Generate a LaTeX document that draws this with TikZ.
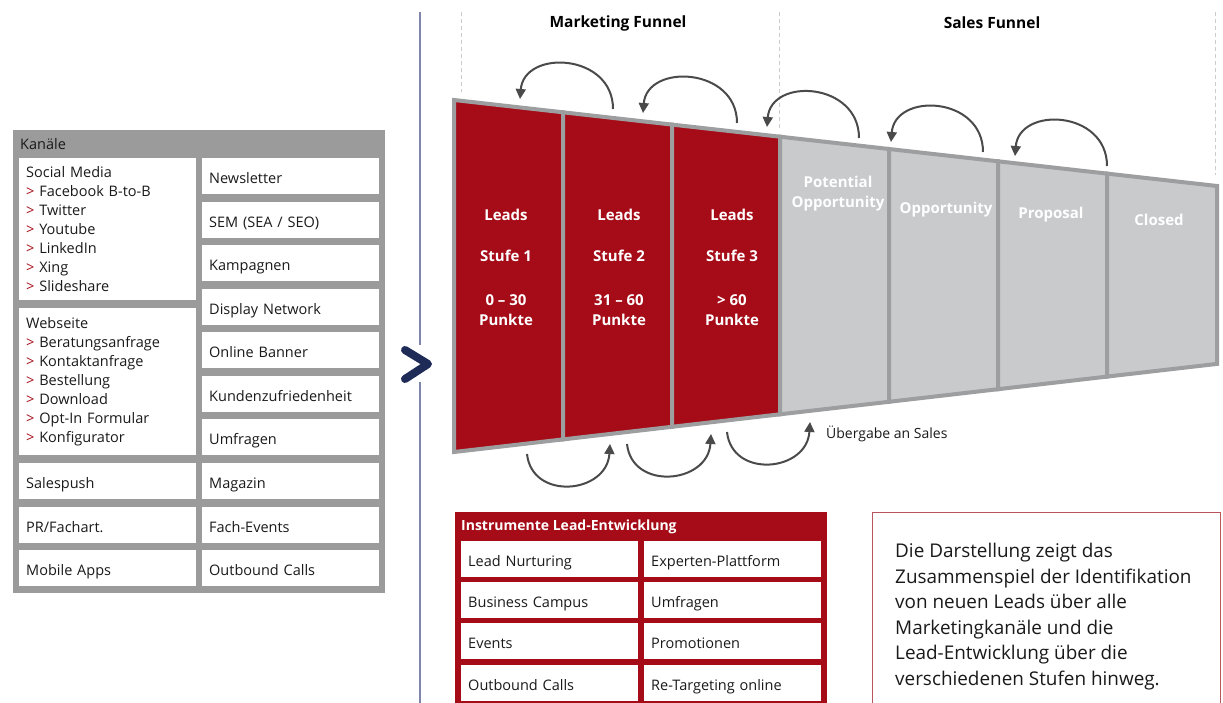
\documentclass[tikz,border=0pt]{standalone}
\usepackage{fontspec}
\setmainfont{Open Sans}
\usetikzlibrary{arrows.meta}
\definecolor{fred}{HTML}{A50C17}
\definecolor{fborder}{HTML}{9D9E9F}
\definecolor{flight}{HTML}{C9CACC}
\definecolor{panelgray}{HTML}{9B9B9B}
\definecolor{arrowgray}{HTML}{4A4A4A}
\definecolor{navy}{HTML}{1E2B57}
\definecolor{vline}{HTML}{7E87AA}
\definecolor{dashgray}{HTML}{CCCCCC}
\definecolor{tboxred}{HTML}{B9555C}
\definecolor{txt}{HTML}{1A1A1A}
\newcommand\boxfont{\fontsize{14.5}{19}\selectfont}
\newcommand\redgt{\textcolor{fred}{>}\ }
\begin{document}
\begin{tikzpicture}[x=1pt,y=-1pt,
  wbox/.style={fill=white, anchor=north west, minimum height=36pt, text width=163pt,
    inner xsep=7pt, inner ysep=0pt, align=left, font=\boxfont, text=txt},
  onebox/.style={wbox, text height=14pt, text depth=0pt},
  cell/.style={draw=fborder, line width=4pt, line join=miter},
  celltext/.style={text=white, font=\fontsize{15}{20}\selectfont\bfseries, align=center, inner sep=0pt},
  carrow/.style={draw=arrowgray, line width=2pt, -{Triangle[length=10pt,width=10pt]}},
  guide/.style={draw=dashgray, line width=0.8pt, dash pattern=on 4pt off 3pt},
  title/.style={font=\fontsize{15.5}{18}\selectfont\bfseries, text=black},
]
\useasboundingbox (0,0) rectangle (1223,703);
\fill[white] (0,0) rectangle (1223,703);

% ---------- left panel: Kanaele ----------
\fill[panelgray] (13,130) rectangle (385,593);
\node[anchor=west, font=\boxfont, text=txt, inner sep=0pt] (kan) at (20,144) {Kanäle};

\node[wbox, minimum height=142pt] (social) at (19,158) {Social Media\\ \redgt Facebook B-to-B\\ \redgt Twitter\\ \redgt Youtube\\ \redgt LinkedIn\\ \redgt Xing\\ \redgt Slideshare};
\node[wbox, minimum height=147pt] (web) at (19,308) {Webseite\\ \redgt Beratungsanfrage\\ \redgt Kontaktanfrage\\ \redgt Bestellung\\ \redgt Download\\ \redgt Opt-In Formular\\ \redgt Konfigurator};
\node[onebox] (sales) at (19,463) {Salespush};
\node[onebox] (pr) at (19,507) {PR/Fachart.};
\node[onebox] (mobile) at (19,550) {Mobile Apps};

\node[onebox] (news) at (202,158) {Newsletter};
\node[onebox] (sem) at (202,202) {SEM (SEA / SEO)};
\node[onebox] (kamp) at (202,245) {Kampagnen};
\node[onebox] (disp) at (202,289) {Display Network};
\node[onebox] (banner) at (202,332) {Online Banner};
\node[onebox] (kunden) at (202,376) {Kundenzufriedenheit};
\node[onebox] (umf) at (202,419) {Umfragen};
\node[onebox] (mag) at (202,463) {Magazin};
\node[onebox] (fach) at (202,507) {Fach-Events};
\node[onebox] (outb) at (202,550) {Outbound Calls};

% ---------- separator line and chevron ----------
\draw[vline, line width=1.5pt] (420,12) -- (420,345);
\draw[vline, line width=1.5pt] (420,382) -- (420,703);
\draw[navy, line width=8pt, line cap=round, line join=round] (405,350) -- (428,364) -- (405,379);

% ---------- guides and titles ----------
\draw[guide] (461,12) -- (461,92);
\draw[guide] (779,12) -- (779,130);
\draw[guide] (1215,12) -- (1215,175);
\node[title] (mf) at (618,23) {Marketing Funnel};
\node[title] (sf) at (992,23) {Sales Funnel};

% ---------- funnel cells ----------
\filldraw[cell, fill=fred] (454,100) -- (563,112.3) -- (563,439.4) -- (454,452) -- cycle;
\filldraw[cell, fill=fred] (563,112.3) -- (672,124.6) -- (672,426.8) -- (563,439.4) -- cycle;
\filldraw[cell, fill=fred] (672,124.6) -- (780,136.7) -- (780,414.3) -- (672,426.8) -- cycle;
\filldraw[cell, fill=flight] (780,136.7) -- (889,149.0) -- (889,401.8) -- (780,414.3) -- cycle;
\filldraw[cell, fill=flight] (889,149.0) -- (998,161.3) -- (998,389.2) -- (889,401.8) -- cycle;
\filldraw[cell, fill=flight] (998,161.3) -- (1107,173.6) -- (1107,376.6) -- (998,389.2) -- cycle;
\filldraw[cell, fill=flight] (1107,173.6) -- (1217,186.0) -- (1217,363.9) -- (1107,376.6) -- cycle;

% cell texts
\node[celltext] (l1a) at (506,215) {Leads};
\node[celltext] (l1b) at (506,256) {Stufe 1};
\node[celltext] (l1c) at (506,310) {0 – 30\\Punkte};
\node[celltext] (l2a) at (619,215) {Leads};
\node[celltext] (l2b) at (619,256) {Stufe 2};
\node[celltext] (l2c) at (619,310) {31 – 60\\Punkte};
\node[celltext] (l3a) at (732,215) {Leads};
\node[celltext] (l3b) at (732,256) {Stufe 3};
\node[celltext] (l3c) at (732,310) {> 60\\Punkte};
\node[celltext] (po) at (838,194) {Potential\\Opportunity};
\node[celltext] (op) at (946,210) {Opportunity};
\node[celltext] (pr2) at (1051,215) {Proposal};
\node[celltext] (cl) at (1159,220) {Closed};

% ---------- arrows above ----------
\coordinate (t1s) at (613,109); \coordinate (t1e) at (520,99);
\coordinate (t2s) at (737,123); \coordinate (t2e) at (643,113);
\coordinate (t3s) at (859,138); \coordinate (t3e) at (767,127);
\coordinate (t4s) at (983,152); \coordinate (t4e) at (891,142);
\coordinate (t5s) at (1107,166); \coordinate (t5e) at (1015,156);
\foreach \i in {1,...,5}{
  \draw[carrow] (t\i s) .. controls ([yshift=56pt]t\i s) and ([xshift=4pt,yshift=50pt]t\i e) .. (t\i e);
}
% ---------- arrows below ----------
\coordinate (b1s) at (527,454); \coordinate (b1e) at (610,444);
\coordinate (b2s) at (627,444); \coordinate (b2e) at (711,434);
\coordinate (b3s) at (727,432); \coordinate (b3e) at (810,422);
\foreach \i in {1,2,3}{
  \draw[carrow] (b\i s) .. controls ([xshift=5pt,yshift=-47pt]b\i s) and ([xshift=-3pt,yshift=-50pt]b\i e) .. (b\i e);
}
\node[anchor=west, font=\fontsize{14}{17}\selectfont, text=txt, inner sep=0pt] (ueb) at (826,434) {Übergabe an Sales};

% ---------- Instrumente Lead-Entwicklung ----------
\fill[fred] (455,512) rectangle (827,710);
\node[anchor=west, font=\fontsize{14}{17}\selectfont\bfseries, text=white, inner sep=0pt] (ins) at (461,527) {Instrumente Lead-Entwicklung};
\node[onebox] (i1) at (461,541) {Lead Nurturing};
\node[onebox] (i2) at (644,541) {Experten-Plattform};
\node[onebox] (i3) at (461,582) {Business Campus};
\node[onebox] (i4) at (644,582) {Umfragen};
\node[onebox] (i5) at (461,623) {Events};
\node[onebox] (i6) at (644,623) {Promotionen};
\node[onebox] (i7) at (461,665) {Outbound Calls};
\node[onebox] (i8) at (644,665) {Re-Targeting online};

% ---------- description box ----------
\draw[tboxred, line width=1pt] (872,710) -- (872,512) -- (1220,512) -- (1220,710);
\node[anchor=north west, align=left, inner sep=0pt, text=txt, font=\fontsize{18.9}{25.5}\selectfont] (desc) at (895,543) {Die Darstellung zeigt das\\Zusammenspiel der Identifikation\\von neuen Leads über alle\\Marketingkanäle und die\\Lead-Entwicklung über die\\verschiedenen Stufen hinweg.};
\end{tikzpicture}
\end{document}
